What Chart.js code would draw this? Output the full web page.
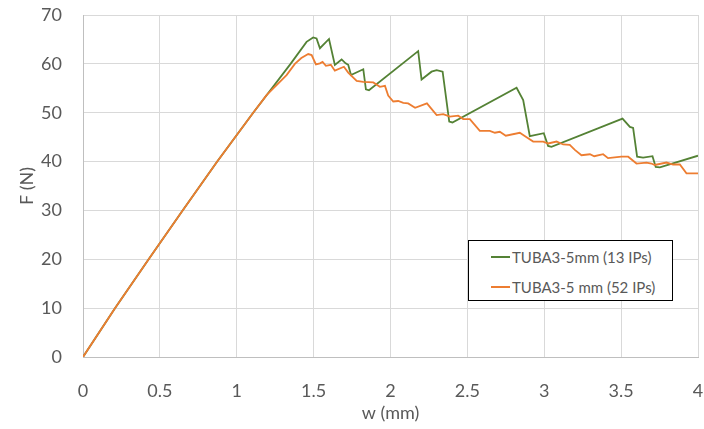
<!DOCTYPE html>
<html>
<head>
    <title>F-w curves</title>
    <style>
        body {
            margin: 0;
            background: #fff;
            font-family: Lato, "Open Sans", sans-serif;
        }
        .wrap {
            position: relative;
            width: 704px;
            height: 429px;
        }
        #legend {
            position: absolute;
            left: 468px;
            top: 240px;
            width: 203px;
            height: 59px;
            border: 1px solid #000;
            background: #fff;
            color: #595959;
            font-size: 15px;
        }
        #legend .item {
            position: absolute;
            left: 22px;
            display: flex;
            align-items: center;
            white-space: nowrap;
        }
        #legend .swatch {
            display: inline-block;
            width: 19px;
            height: 2px;
            margin-right: 2px;
        }
    </style>
    <script src="https://cdn.jsdelivr.net/npm/chart.js"></script>
</head>
<body>
    <div class="wrap">
        <canvas id="fwChart" width="704" height="429"></canvas>
        <div id="legend"></div>
    </div>

    <script>
        // series: w (mm) and F (N)
        const seriesNames = ['TUBA3-5mm (13 IPs)', 'TUBA3-5 mm (52 IPs)'];

        const greenW = [0, 0.208, 0.427, 0.648, 0.873, 1.107, 1.35, 1.454, 1.497, 1.519, 1.541, 1.6, 1.638,
            1.682, 1.708, 1.725, 1.743, 1.823, 1.84, 1.86, 2.18, 2.202, 2.267, 2.3, 2.339, 2.382, 2.403,
            2.82, 2.863, 2.906, 2.997, 3.025, 3.047, 3.509, 3.557, 3.578, 3.604, 3.643, 3.704, 3.725,
            3.752, 4.0];
        const greenF = [0, 10, 20, 30, 40, 50, 60, 64.5, 65.4, 65.2, 63.2, 65.1, 59.8,
            60.9, 60.1, 59.8, 57.7, 58.9, 54.8, 54.6, 62.6, 56.8, 58.4, 58.7, 58.4, 48.2, 48.0,
            55.1, 52.6, 45.2, 45.8, 43.2, 43.0, 48.8, 47.1, 46.9, 41.0, 40.8, 41.1, 38.9,
            38.8, 41.2];

        const orangeW = [0, 0.208, 0.427, 0.648, 0.873, 1.107, 1.194, 1.324, 1.378, 1.42, 1.465, 1.487,
            1.515, 1.541, 1.558, 1.58, 1.612, 1.638, 1.697, 1.725, 1.78, 1.823, 1.888, 1.931, 1.964,
            1.985, 2.018, 2.05, 2.083, 2.115, 2.16, 2.237, 2.264, 2.3, 2.343, 2.386, 2.44, 2.473,
            2.516, 2.581, 2.646, 2.679, 2.711, 2.75, 2.841, 2.885, 2.928, 2.993, 3.025, 3.08, 3.123,
            3.166, 3.199, 3.242, 3.297, 3.325, 3.383, 3.415, 3.502, 3.546, 3.6, 3.665, 3.697, 3.719,
            3.795, 3.838, 3.882, 3.925, 4.0];
        const orangeF = [0, 10, 20, 30, 40, 50, 53.6, 57.7, 60.0, 61.2, 62.0, 61.8,
            59.9, 60.1, 60.4, 59.6, 59.8, 58.6, 59.4, 58.2, 56.5, 56.3, 56.2, 55.3, 55.5,
            53.5, 52.3, 52.4, 52.0, 51.9, 51.0, 51.9, 50.9, 49.5, 49.7, 49.2, 49.4, 48.7,
            48.7, 46.3, 46.3, 45.9, 46.1, 45.3, 45.9, 45.0, 44.1, 44.1, 43.7, 44.1, 43.5,
            43.4, 42.4, 41.3, 41.5, 41.1, 41.5, 40.7, 41.0, 41.0, 39.6, 39.8, 39.6, 39.3,
            39.8, 39.4, 39.4, 37.6, 37.6];

        const xTicks = [0, 0.5, 1, 1.5, 2, 2.5, 3, 3.5, 4];
        const yTicks = [0, 10, 20, 30, 40, 50, 60, 70];

        const colors = ['#548235', '#ED7D31'];

        function toPoints(ws, fs) {
            return ws.map((w, i) => ({ x: w, y: fs[i] }));
        }

        const datasets = [
            { label: seriesNames[0], data: toPoints(greenW, greenF), borderColor: colors[0], order: 2 },
            { label: seriesNames[1], data: toPoints(orangeW, orangeF), borderColor: colors[1], order: 1 }
        ].map(d => Object.assign(d, {
            showLine: true,
            borderWidth: 1.8,
            pointRadius: 0,
            fill: false,
            tension: 0
        }));

        const tickFont = { family: 'Lato', size: 18 };
        const gridColor = '#d9d9d9';

        const ctx = document.getElementById('fwChart').getContext('2d');
        const chart = new Chart(ctx, {
            type: 'scatter',
            data: { datasets: datasets },
            options: {
                responsive: false,
                animation: false,
                layout: { padding: { top: 15, right: 6, bottom: 0, left: 0 } },
                plugins: { legend: { display: false }, tooltip: { enabled: false } },
                scales: {
                    x: {
                        type: 'linear',
                        min: 0,
                        max: 4,
                        afterBuildTicks: s => { s.ticks = xTicks.map(v => ({ value: v })); },
                        afterFit: s => { s.height = 72; s.paddingLeft = 0; s.paddingRight = 0; },
                        grid: { color: gridColor, drawTicks: false },
                        border: { color: '#bfbfbf' },
                        ticks: { color: '#595959', font: tickFont, padding: 23, maxRotation: 0, callback: v => String(v) },
                        title: { display: true, text: 'w (mm)', color: '#595959', font: tickFont, padding: 5 }
                    },
                    y: {
                        min: 0,
                        max: 70,
                        afterBuildTicks: s => { s.ticks = yTicks.map(v => ({ value: v })); },
                        afterFit: s => { s.width = 83; s.paddingTop = 0; s.paddingBottom = 0; },
                        grid: { color: gridColor, drawTicks: false },
                        border: { color: '#bfbfbf' },
                        ticks: { color: '#595959', font: tickFont, padding: 21, callback: v => String(v) },
                        title: { display: true, text: 'F (N)', color: '#595959', font: tickFont, padding: 16 }
                    }
                }
            }
        });

        // legend box inside the plot, built from the datasets
        const legend = document.getElementById('legend');
        const rowTops = [7, 37];
        chart.data.datasets.forEach((d, i) => {
            const item = document.createElement('div');
            item.className = 'item';
            item.style.top = rowTops[i] + 'px';
            const sw = document.createElement('span');
            sw.className = 'swatch';
            sw.style.background = d.borderColor;
            const txt = document.createElement('span');
            txt.textContent = d.label;
            item.appendChild(sw);
            item.appendChild(txt);
            legend.appendChild(item);
        });
    </script>
</body>
</html>
